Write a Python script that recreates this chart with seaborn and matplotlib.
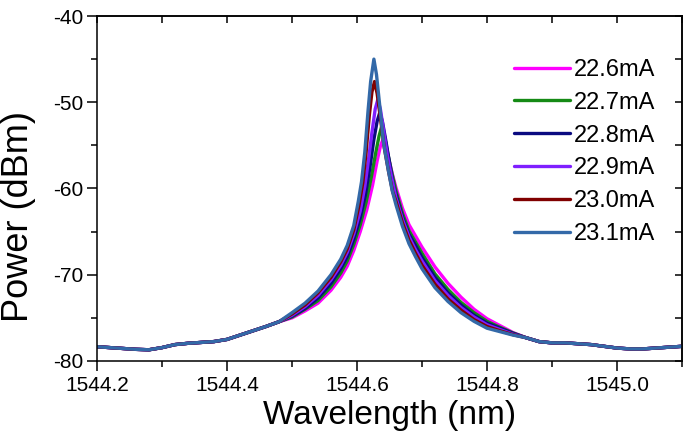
import pandas as pd
import matplotlib
matplotlib.use('Agg')
import matplotlib.pyplot as plt
import seaborn as sns
from matplotlib.ticker import MultipleLocator

# 两侧的底噪部分 (各曲线基本重合)
wl_left = [1544.20, 1544.22, 1544.24, 1544.26, 1544.28, 1544.30, 1544.32, 1544.34,
           1544.36, 1544.38, 1544.40, 1544.42, 1544.44, 1544.46, 1544.48]
p_left = [-78.35, -78.45, -78.55, -78.65, -78.7, -78.45, -78.1, -77.95,
          -77.85, -77.75, -77.5, -77.0, -76.5, -76.0, -75.45]
wl_right = [1544.86, 1544.88, 1544.90, 1544.92, 1544.94, 1544.96, 1544.98,
            1545.00, 1545.02, 1545.04, 1545.06, 1545.08, 1545.10]
p_right = [-77.3, -77.75, -77.9, -77.9, -78.0, -78.1, -78.3,
           -78.5, -78.6, -78.6, -78.5, -78.4, -78.3]

wl_l = [1544.50, 1544.52, 1544.54, 1544.56, 1544.575, 1544.585, 1544.595]
wl_r = [1544.66, 1544.67, 1544.68, 1544.69, 1544.70, 1544.72, 1544.74,
        1544.76, 1544.78, 1544.80, 1544.82, 1544.84]

# 峰值附近
wl_231 = wl_l + [1544.602, 1544.607, 1544.612, 1544.617, 1544.621, 1544.626,
                 1544.630, 1544.635, 1544.641, 1544.648, 1544.654] + wl_r
p_231 = [-74.4, -73.3, -71.9, -70.0, -68.2, -66.6, -64.3,
         -61.5, -59.2, -55.8, -51.0, -47.6, -45.0, -46.8, -50.4, -54.8, -57.8, -60.2,
         -61.9, -64.4, -66.4, -67.9, -69.3, -71.5, -73.1, -74.4, -75.4, -76.2, -76.6, -77.0]

wl_230 = wl_l + [1544.603, 1544.609, 1544.614, 1544.619, 1544.623, 1544.627,
                 1544.631, 1544.636, 1544.642, 1544.649, 1544.655] + wl_r
p_230 = [-74.55, -73.5, -72.1, -70.3, -68.5, -67.0, -64.8,
         -62.0, -59.3, -55.8, -51.5, -48.8, -47.6, -49.0, -51.8, -55.3, -58.2, -60.4,
         -61.5, -64.0, -66.0, -67.5, -68.9, -71.1, -72.8, -74.1, -75.2, -76.0, -76.5, -76.95]

wl_229 = wl_l + [1544.605, 1544.612, 1544.618, 1544.623, 1544.628, 1544.632,
                 1544.636, 1544.641, 1544.647, 1544.654] + wl_r
p_229 = [-74.7, -73.7, -72.4, -70.6, -68.9, -67.4, -65.3,
         -62.6, -59.8, -56.5, -53.5, -50.8, -49.7, -50.8, -53.3, -56.3, -59.0,
         -61.1, -63.6, -65.6, -67.1, -68.4, -70.7, -72.4, -73.8, -74.9, -75.8, -76.35, -76.9]

wl_228 = wl_l + [1544.605, 1544.613, 1544.620, 1544.626, 1544.631, 1544.635,
                 1544.639, 1544.644, 1544.650, 1544.656] + wl_r
p_228 = [-74.8, -73.9, -72.7, -71.0, -69.3, -67.9, -65.9,
         -63.4, -60.7, -57.5, -54.3, -52.2, -51.2, -52.2, -54.3, -57.0, -59.6,
         -60.7, -63.3, -65.3, -66.6, -68.0, -70.3, -72.1, -73.5, -74.7, -75.6, -76.2, -76.8]

wl_227 = wl_l + [1544.605, 1544.614, 1544.622, 1544.629, 1544.634, 1544.638,
                 1544.642, 1544.647, 1544.653] + wl_r
p_227 = [-74.9, -74.0, -73.0, -71.4, -69.8, -68.4, -66.5,
         -64.2, -61.6, -58.7, -55.8, -53.9, -52.8, -53.8, -55.8, -58.0,
         -60.3, -62.9, -64.9, -66.2, -67.5, -69.9, -71.7, -73.2, -74.4, -75.4, -76.1, -76.75]

wl_226 = wl_l + [1544.605, 1544.615, 1544.624, 1544.631, 1544.636, 1544.640,
                 1544.644, 1544.649, 1544.655] + wl_r
p_226 = [-75.0, -74.2, -73.3, -71.8, -70.3, -69.0, -67.2,
         -65.0, -62.5, -59.6, -56.8, -55.1, -54.3, -55.0, -56.6, -58.5,
         -59.9, -62.3, -64.2, -65.5, -66.8, -69.1, -71.0, -72.6, -74.0, -75.1, -75.9, -76.7]

currents = ['22.6mA', '22.7mA', '22.8mA', '22.9mA', '23.0mA', '23.1mA']
wls = [wl_226, wl_227, wl_228, wl_229, wl_230, wl_231]
pows = [p_226, p_227, p_228, p_229, p_230, p_231]
colors = ['#FF00FF', '#158A15', '#0A0A80', '#7F1FFF', '#800000', '#3369A8']

frames = []
for c, w, p in zip(currents, wls, pows):
    frames.append(pd.DataFrame({'wl': wl_left + w + wl_right,
                                'p': p_left + p + p_right,
                                'I': c}))
df = pd.concat(frames, ignore_index=True)

# ------------ 绘图 ------------
sns.set_style('ticks')
plt.rcParams['font.family'] = ['Liberation Sans', 'DejaVu Sans']
plt.rcParams['axes.unicode_minus'] = False
for k in ['text.color', 'axes.labelcolor', 'xtick.color', 'ytick.color', 'axes.edgecolor']:
    plt.rcParams[k] = 'black'

fig = plt.figure(figsize=(6.85, 4.42), dpi=100)
ax = fig.add_axes([0.1416, 0.1833, 0.854, 0.7805])

sns.lineplot(data=df, x='wl', y='p', hue='I', hue_order=currents,
             palette=colors, estimator=None, sort=False, linewidth=2.4, ax=ax)

ax.set_xlim(1544.2, 1545.1)
ax.set_ylim(-80, -40)
ax.xaxis.set_major_locator(MultipleLocator(0.2))
ax.xaxis.set_minor_locator(MultipleLocator(0.1))
ax.yaxis.set_major_locator(MultipleLocator(10))
ax.yaxis.set_minor_locator(MultipleLocator(5))
ax.xaxis.set_major_formatter(plt.FormatStrFormatter('%.1f'))

ax.tick_params(which='major', direction='out', length=7, width=1.1,
               labelsize=15, colors='black')
ax.tick_params(which='minor', direction='out', length=4, width=1.1)
ax.tick_params(axis='x', which='major', pad=4)
ax.tick_params(axis='y', which='major', pad=3)

# 上、右两侧的内向刻度
top = ax.secondary_xaxis('top')
top.xaxis.set_major_locator(MultipleLocator(0.2))
top.xaxis.set_minor_locator(MultipleLocator(0.1))
top.tick_params(which='both', direction='in', length=5, width=1.1, labeltop=False)
right = ax.secondary_yaxis('right')
right.yaxis.set_major_locator(MultipleLocator(10))
right.yaxis.set_minor_locator(MultipleLocator(5))
right.tick_params(which='both', direction='in', length=5, width=1.1, labelright=False)

for sp in list(ax.spines.values()) + [top.spines['top'], right.spines['right']]:
    sp.set_linewidth(1.1)
    sp.set_color('black')
    sp.set_visible(True)

ax.set_xlabel('Wavelength (nm)', fontsize=24, va='center')
ax.set_ylabel('Power (dBm)', fontsize=26, va='center')
ax.xaxis.set_label_coords(0.5, -0.159)
ax.yaxis.set_label_coords(-0.135, 0.42)

ax.legend(loc='upper left', bbox_to_anchor=(0.712, 0.876), frameon=False,
          fontsize=17, handlelength=2.4, handletextpad=0.15,
          labelspacing=0.46, borderpad=0, borderaxespad=0)

plt.savefig('out.png', dpi=100)
